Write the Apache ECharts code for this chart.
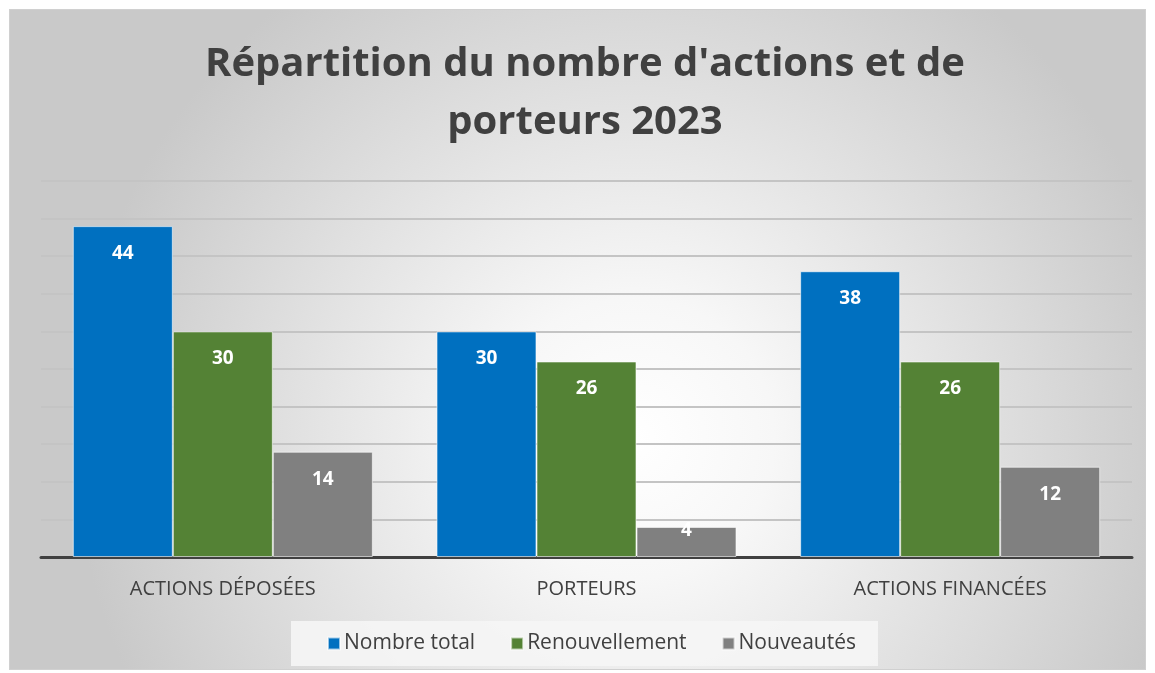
<!DOCTYPE html>
<html>
<head>
<meta charset="utf-8">
<script src="https://cdn.jsdelivr.net/npm/echarts@6/dist/echarts.min.js"></script>
<style>
html,body{margin:0;padding:0;background:#fff;}
#c{position:absolute;left:9px;top:9px;width:1137px;height:661px;box-sizing:border-box;border:1px solid #d0d0d0;}
</style>
</head>
<body>
<div id="c"></div>
<script>
const categories = ['ACTIONS DÉPOSÉES', 'PORTEURS', 'ACTIONS FINANCÉES'];
const seriesNames = ['Nombre total', 'Renouvellement', 'Nouveautés'];
const nombreTotal = [44, 30, 38];
const renouvellement = [30, 26, 26];
const nouveautes = [14, 4, 12];
const colors = ['#0070C0', '#548235', '#808080'];
const values = [nombreTotal, renouvellement, nouveautes];

const chart = echarts.init(document.getElementById('c'));
chart.setOption({
  animation: false,
  backgroundColor: {
    type: 'radial', x: 0.55, y: 0.65, r: 0.85,
    colorStops: [{offset: 0, color: '#ffffff'}, {offset: 0.25, color: '#f7f7f7'}, {offset: 1, color: '#c9c9c9'}]
  },
  title: {
    text: "Répartition du nombre d'actions et de\nporteurs 2023",
    left: 570, top: 21, textAlign: 'center',
    textStyle: {fontFamily: 'Open Sans', fontWeight: 'bold', fontSize: 40, color: '#404040', lineHeight: 58}
  },
  legend: {
    bottom: 3, left: 281,
    itemWidth: 12, itemHeight: 12, itemGap: 35,
    icon: 'rect',
    backgroundColor: 'rgba(245,245,245,0.9)',
    padding: [12, 22, 12, 36],
    textStyle: {fontFamily: 'Open Sans', fontSize: 21, color: '#404040', padding: [0,0,0,-1]},
    data: seriesNames
  },
  grid: {left: 31, right: 13, top: 171, bottom: 112},
  xAxis: {
    type: 'category', data: categories,
    axisTick: {show: false},
    axisLine: {lineStyle: {color: '#404040', width: 3}},
    axisLabel: {fontFamily: 'Open Sans', fontSize: 20, color: '#404040', margin: 22}
  },
  yAxis: {
    type: 'value', min: 0, max: 50, interval: 5,
    axisLabel: {show: false},
    axisLine: {show: false}, axisTick: {show: false},
    splitLine: {lineStyle: {color: '#c4c4c4', width: 2}}
  },
  series: values.map((v, i) => ({
    name: seriesNames[i], type: 'bar',
    data: v.map(x => x < 6 ? {value: x, label: {distance: 0, offset: [0, -6]}} : x),
    barGap: '0%', barCategoryGap: '17.5%',
    itemStyle: {color: colors[i], borderColor: 'rgba(255,255,255,0.6)', borderWidth: 1},
    label: {show: true, position: 'insideTop', distance: 18, color: '#ffffff',
      fontFamily: 'Open Sans', fontWeight: 'bold', fontSize: 19}
  }))
});
</script>
</body>
</html>
